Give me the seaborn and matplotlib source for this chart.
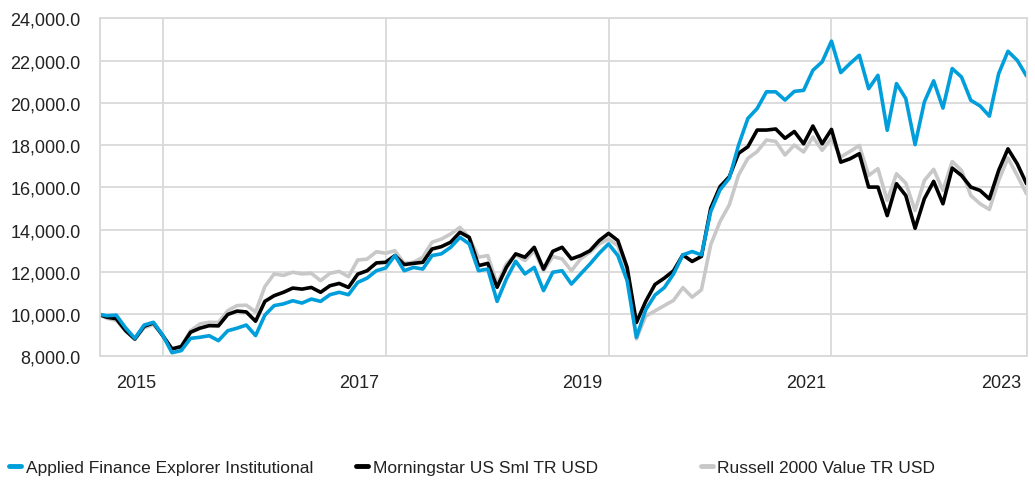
import numpy as np
import pandas as pd
import matplotlib
matplotlib.use("Agg")
import matplotlib.pyplot as plt
from matplotlib.lines import Line2D
from matplotlib.ticker import FixedLocator, FuncFormatter, NullFormatter
import seaborn as sns

# growth of 10,000 - month index 0 = May 2015 ... 100 = Sep 2023
month = np.arange(101)

applied = [10000, 9920, 9950, 9350, 8850, 9480, 9610, 9000, 8170, 8270,
           8850, 8900, 8975, 8740, 9210, 9330, 9480, 8980, 9950, 10400,
           10480, 10630, 10520, 10710, 10600, 10915, 11030, 10915, 11500, 11700,
           12050, 12180, 12770, 12050, 12210, 12130, 12770, 12850, 13160, 13630,
           13320, 12050, 12130, 10600, 11660, 12500, 11900, 12210, 11110, 11980,
           12050, 11420, 11900, 12370, 12880, 13320, 12770, 11580, 8900, 10200,
           10900, 11250, 11900, 12800, 12960, 12800, 14850, 15880, 16430, 18000,
           19260, 19730, 20520, 20520, 20130, 20540, 20590, 21540, 21940, 22920,
           21430, 21860, 22250, 20670, 21300, 18700, 20910, 20200, 18020, 20040,
           21040, 19750, 21620, 21220, 20120, 19850, 19370, 21380, 22440, 22010,
           21270]

morningstar = [10000, 9850, 9780, 9220, 8820, 9420, 9580, 8980, 8350, 8460,
               9140, 9330, 9450, 9440, 9980, 10140, 10100, 9660, 10600, 10870,
               11030, 11230, 11180, 11260, 11030, 11340, 11450, 11260, 11890, 12050,
               12420, 12450, 12770, 12340, 12400, 12450, 13080, 13190, 13400, 13870,
               13630, 12290, 12400, 11270, 12210, 12850, 12690, 13160, 12130, 12970,
               13160, 12610, 12770, 13000, 13480, 13820, 13480, 12210, 9600, 10600,
               11400, 11700, 12050, 12800, 12490, 12730, 15010, 16030, 16500, 17610,
               17920, 18710, 18710, 18760, 18320, 18640, 18060, 18900, 18060, 18740,
               17190, 17350, 17590, 16010, 16010, 14660, 16170, 15610, 14060, 15460,
               16280, 15220, 16910, 16560, 16010, 15850, 15450, 16800, 17820, 17110,
               16170]

russell = [10000, 9800, 9700, 9200, 8800, 9350, 9500, 9000, 8350, 8480,
           9210, 9530, 9610, 9600, 10160, 10400, 10420, 10100, 11300, 11900,
           11830, 11980, 11900, 11930, 11580, 11930, 12020, 11770, 12560, 12600,
           12950, 12880, 13000, 12400, 12450, 12690, 13400, 13550, 13790, 14100,
           13630, 12690, 12770, 11420, 12370, 12800, 12530, 13000, 12050, 12720,
           12610, 12050, 12610, 12930, 13320, 13550, 13240, 11900, 8820, 9900,
           10150, 10400, 10650, 11250, 10800, 11150, 13280, 14380, 15170, 16580,
           17370, 17690, 18240, 18170, 17530, 18000, 17670, 18380, 17750, 18330,
           17430, 17700, 17980, 16560, 16880, 15380, 16640, 16200, 14900, 16320,
           16850, 15850, 17220, 16800, 15610, 15220, 14950, 16320, 17380, 16560,
           15690]

names = ["Applied Finance Explorer Institutional",
         "Morningstar US Sml TR USD",
         "Russell 2000 Value TR USD"]
colors = {names[0]: "#009fdb", names[1]: "#000000", names[2]: "#c8c8c8"}

year_labels = ["2015", "2017", "2019", "2021", "2023"]
label_pos = [4.1, 28.1, 52.2, 76.3, 97.3]
year_ends = [7, 31, 55, 79]

df = pd.DataFrame({"month": month, names[0]: applied,
                   names[1]: morningstar, names[2]: russell})
df = df.melt(id_vars="month", var_name="series", value_name="value")

sns.set_style("white")
plt.rcParams["font.family"] = ["Liberation Sans", "DejaVu Sans"]
plt.rcParams["text.color"] = "#222222"
grid_c = "#d9d9d9"
fs = 13

fig = plt.figure(figsize=(10.35, 4.81), dpi=100)
ax = fig.add_axes([100 / 1035, 1 - 357.3 / 481, 927 / 1035, 338 / 481])

# gray first, blue last so blue sits on top
sns.lineplot(data=df, x="month", y="value", hue="series",
             hue_order=[names[2], names[1], names[0]], palette=colors,
             linewidth=2.6, legend=False, ax=ax)

ax.set_xlim(0.25, 100.05)
ax.set_ylim(8000, 24000)
ax.set_yticks(np.arange(8000, 24001, 2000))
ax.yaxis.set_major_formatter(FuncFormatter(lambda v, p: f"{v:,.1f}"))
ax.xaxis.set_major_locator(FixedLocator([0.25] + year_ends + [100.05]))
ax.xaxis.set_major_formatter(NullFormatter())
ax.xaxis.set_minor_locator(FixedLocator(label_pos))
ax.xaxis.set_minor_formatter(FuncFormatter(lambda v, p: year_labels[p]))
ax.set_xlabel("")
ax.set_ylabel("")

ax.grid(True, which="major", color=grid_c, linewidth=1.3)
ax.tick_params(axis="x", which="major", length=10.5, width=1.3, color=grid_c)
ax.tick_params(axis="x", which="minor", length=0, pad=13, labelsize=fs,
               labelcolor="#222222")
ax.tick_params(axis="y", length=0, pad=14, labelsize=fs, labelcolor="#222222")
for s in ax.spines.values():
    s.set_color(grid_c)
    s.set_linewidth(1.3)
ax.set_axisbelow(True)

# legend: three evenly spaced entries along the bottom
leg_x = [0.009, 0.344, 0.677]
for name, lx in zip(names, leg_x):
    h = Line2D([], [], color=colors[name], linewidth=3.5)
    fig.legend([h], [name], loc="center left", bbox_to_anchor=(lx, 1 - 468 / 481),
               frameon=False, fontsize=12.5, handlelength=0.7, handletextpad=0.25,
               borderpad=0, borderaxespad=0)

fig.savefig("out.png", dpi=100)
